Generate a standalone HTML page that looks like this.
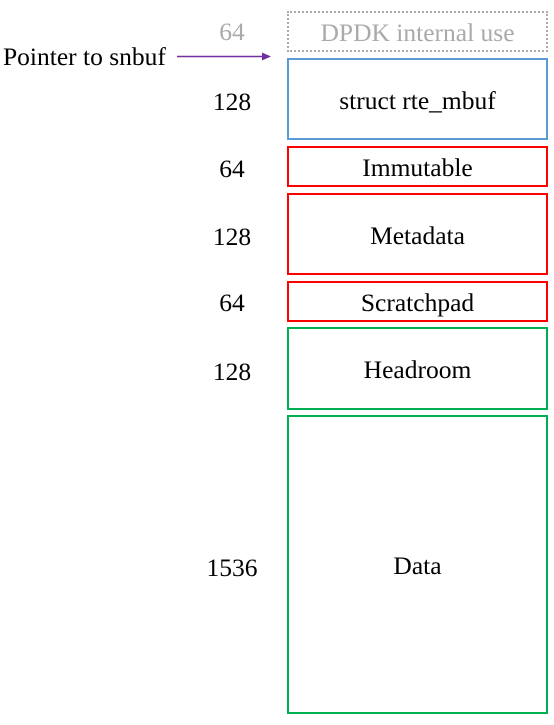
<!DOCTYPE html>
<html><head><style>
body{margin:0;width:554px;height:725px;background:#fff;position:relative;font-family:"Liberation Serif","Times New Roman","DejaVu Serif",serif;font-size:25.5px;overflow:hidden}
.b{position:absolute;left:287px;width:261px;box-sizing:border-box;display:flex;align-items:center;justify-content:center;color:#000;padding-top:3px}
.r{border:2px solid #f00}.g{border:2px solid #00b050}
.n{position:absolute;left:200px;width:64px;text-align:center;transform:translateY(-50%)}
</style></head><body>
<div class="b" style="top:11px;height:41px;border:2px dotted #aaa;color:#aaa">DPDK internal use</div>
<div class="b" style="top:58px;height:82px;border:2px solid #5b9bd5">struct rte_mbuf</div>
<div class="b r" style="top:146px;height:41px">Immutable</div>
<div class="b r" style="top:193px;height:82px">Metadata</div>
<div class="b r" style="top:281px;height:41px">Scratchpad</div>
<div class="b g" style="top:327px;height:83px">Headroom</div>
<div class="b g" style="top:415px;height:299px">Data</div>
<div class="n" style="top:32px;color:#aaa">64</div>
<div class="n" style="top:102px">128</div>
<div class="n" style="top:169px">64</div>
<div class="n" style="top:237px">128</div>
<div class="n" style="top:303px">64</div>
<div class="n" style="top:372px">128</div>
<div class="n" style="top:568px">1536</div>
<div style="position:absolute;left:3px;top:42px">Pointer to snbuf</div>
<svg style="position:absolute;left:0;top:0" width="554" height="725"><line x1="177" y1="56.5" x2="264" y2="56.5" stroke="#7030a0" stroke-width="1.5"/><polygon points="271,56.5 262,52.5 262,60.5" fill="#7030a0"/></svg>
</body></html>
